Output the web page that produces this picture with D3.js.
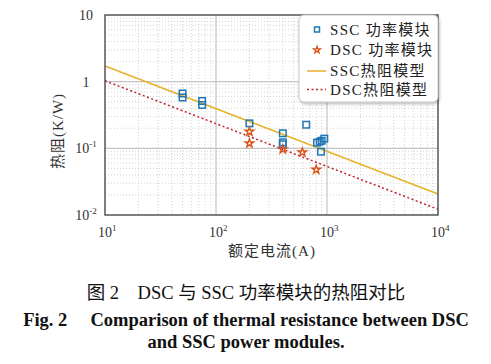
<!DOCTYPE html>
<html><head><meta charset="utf-8">
<script src="https://cdn.jsdelivr.net/npm/d3@7"></script>
<style>
body{margin:0;background:#fff;}
svg{display:block;}
</style></head>
<body>
<svg id="c" width="491" height="364"></svg>
<script>
// ---- data ----
const sscCurrent = [50, 50, 75, 75, 200, 400, 400, 400, 650, 813, 859, 895, 946, 883];
const sscRth     = [0.665, 0.579, 0.513, 0.447, 0.237, 0.168, 0.123, 0.115, 0.226, 0.1216, 0.126, 0.130, 0.140, 0.089];
const dscCurrent = [200, 200, 400, 600, 800];
const dscRth     = [0.178, 0.119, 0.097, 0.087, 0.048];
const modelCurrent = [10, 10000];
const sscModel   = [1.72, 0.0207];
const dscModel   = [1.03, 0.0122];
const xTickExp = [1, 2, 3, 4];
const yTicks = [{v:10, t:"10", e:""}, {v:1, t:"1", e:""}, {v:0.1, t:"10", e:"-1"}, {v:0.01, t:"10", e:"-2"}];
const legendLabels = ["SSC 功率模块", "DSC 功率模块", "SSC热阻模型", "DSC热阻模型"];
const xLabel = "额定电流(A)";
const yLabel = "热阻(K/W)";
const caption1 = "图 2\u3000DSC 与 SSC 功率模块的热阻对比";
const caption2 = "Fig. 2\u2003 Comparison of thermal resistance between DSC";
const caption3 = "and SSC power modules.";

const svg = d3.select("#c");
const L = 105, R = 438, T = 15, B = 215;
const x = d3.scaleLog().domain([10, 10000]).range([L, R]);
const y = d3.scaleLog().domain([0.01, 10]).range([B, T]);
const serif = "'Liberation Serif','DejaVu Serif',serif";
const cjk = "'Liberation Serif','Noto Sans CJK SC',serif";
const blue = "#1f77b4", orange = "#d95319", yellow = "#e6b22c", red = "#c0202a";

const g = svg.append("g");
// minor grid
const minorX = [], minorY = [];
for (let d = 1; d < 4; d++) for (let k = 2; k <= 9; k++) minorX.push(k * Math.pow(10, d));
for (let d = -2; d < 1; d++) for (let k = 2; k <= 9; k++) minorY.push(k * Math.pow(10, d));
g.selectAll(".mx").data(minorX).join("line")
  .attr("x1", d => x(d)).attr("x2", d => x(d)).attr("y1", T).attr("y2", B)
  .attr("stroke", "#c8c8c8").attr("stroke-width", 0.8).attr("stroke-dasharray", "1,2");
g.selectAll(".my").data(minorY).join("line")
  .attr("y1", d => y(d)).attr("y2", d => y(d)).attr("x1", L).attr("x2", R)
  .attr("stroke", "#c8c8c8").attr("stroke-width", 0.8).attr("stroke-dasharray", "1,2");
// major grid
g.selectAll(".MX").data([100, 1000]).join("line")
  .attr("x1", d => x(d)).attr("x2", d => x(d)).attr("y1", T).attr("y2", B)
  .attr("stroke", "#c4c4c4").attr("stroke-width", 1.2);
g.selectAll(".MY").data([1, 0.1]).join("line")
  .attr("y1", d => y(d)).attr("y2", d => y(d)).attr("x1", L).attr("x2", R)
  .attr("stroke", "#c4c4c4").attr("stroke-width", 1.2);

// model lines
const line = d3.line().x(d => x(d[0])).y(d => y(d[1]));
svg.append("path").datum(modelCurrent.map((c, i) => [c, sscModel[i]]))
  .attr("d", line).attr("fill", "none").attr("stroke", yellow).attr("stroke-width", 1.5);
svg.append("path").datum(modelCurrent.map((c, i) => [c, dscModel[i]]))
  .attr("d", line).attr("fill", "none").attr("stroke", red).attr("stroke-width", 1.5)
  .attr("stroke-dasharray", "2,2.5");

// markers
const sq = 6.5;
svg.selectAll(".ssc").data(sscCurrent.map((c, i) => [c, sscRth[i]])).join("rect")
  .attr("x", d => x(d[0]) - sq / 2).attr("y", d => y(d[1]) - sq / 2)
  .attr("width", sq).attr("height", sq)
  .attr("fill", "none").attr("stroke", blue).attr("stroke-width", 1.5);
const star = d3.symbol().type(d3.symbolStar).size(22)();
svg.selectAll(".dsc").data(dscCurrent.map((c, i) => [c, dscRth[i]])).join("path")
  .attr("d", star).attr("transform", d => `translate(${x(d[0])},${y(d[1])})`)
  .attr("fill", "none").attr("stroke", orange).attr("stroke-width", 1.4);

// frame
svg.append("rect").attr("x", L).attr("y", T).attr("width", R - L).attr("height", B - T)
  .attr("fill", "none").attr("stroke", "#555").attr("stroke-width", 1.5);

// x tick labels
const xl = svg.selectAll(".xt").data(xTickExp).join("text")
  .attr("x", d => x(Math.pow(10, d)) - 7).attr("y", 237)
  .attr("font-family", serif).attr("font-size", 14).attr("fill", "#333");
xl.append("tspan").text("10");
xl.append("tspan").attr("font-size", 9).attr("dy", -6).text(d => d);

// y tick labels
const yl = svg.selectAll(".yt").data(yTicks).join("text")
  .attr("x", 86).attr("y", d => y(d.v) + 5).attr("text-anchor", "middle")
  .attr("font-family", serif).attr("font-size", 14).attr("fill", "#333");
yl.append("tspan").text(d => d.t);
yl.append("tspan").attr("font-size", 9).attr("dy", -6).text(d => d.e);

// axis labels
svg.append("text").attr("x", 272).attr("y", 256).attr("text-anchor", "middle")
  .attr("font-family", cjk).attr("font-size", 15).attr("letter-spacing", 1).attr("fill", "#333").text(xLabel);
svg.append("text").attr("transform", "translate(63,131) rotate(-90)").attr("text-anchor", "middle")
  .attr("font-family", cjk).attr("font-size", 15).attr("letter-spacing", 1).attr("fill", "#333").text(yLabel);

// legend
const defs = svg.append("defs");
const f = defs.append("filter").attr("id", "sh").attr("x", "-10%").attr("y", "-10%").attr("width", "130%").attr("height", "130%");
f.append("feDropShadow").attr("dx", 1).attr("dy", 1.5).attr("stdDeviation", 1.5).attr("flood-color", "#000").attr("flood-opacity", 0.3);
svg.append("rect").attr("x", 299).attr("y", 15).attr("width", 139).attr("height", 87).attr("rx", 5)
  .attr("fill", "#fff").attr("stroke", "#c8c8c8").attr("stroke-width", 1).attr("filter", "url(#sh)");
const ly = [29.5, 50, 71, 89.5];
const leg = svg.selectAll(".lg").data(legendLabels).join("g")
  .attr("transform", (d, i) => `translate(0,${ly[i]})`);
leg.append("text").attr("x", 330).attr("y", 5).attr("font-family", cjk).attr("font-size", 15)
  .attr("letter-spacing", 1.3).attr("fill", "#222").text(d => d);
svg.append("rect").attr("x", 317 - 2.5).attr("y", ly[0] - 2.5).attr("width", 5).attr("height", 5)
  .attr("fill", "none").attr("stroke", blue).attr("stroke-width", 1.5);
svg.append("path").attr("d", d3.symbol().type(d3.symbolStar).size(14)())
  .attr("transform", `translate(317,${ly[1]})`).attr("fill", "none").attr("stroke", orange).attr("stroke-width", 1.3);
svg.append("line").attr("x1", 307).attr("x2", 326).attr("y1", ly[2]).attr("y2", ly[2])
  .attr("stroke", yellow).attr("stroke-width", 1.5);
svg.append("line").attr("x1", 307).attr("x2", 326).attr("y1", ly[3]).attr("y2", ly[3])
  .attr("stroke", red).attr("stroke-width", 1.5).attr("stroke-dasharray", "2,2.5");

// captions
svg.append("text").attr("x", 246).attr("y", 299).attr("text-anchor", "middle")
  .attr("font-family", "'Liberation Serif','Noto Sans CJK SC',serif").attr("font-size", 18.5).attr("fill", "#111").text(caption1);
svg.append("text").attr("x", 246).attr("y", 326).attr("text-anchor", "middle")
  .attr("font-family", "'Liberation Serif',serif").attr("font-weight", "bold").attr("font-size", 18.5).attr("fill", "#111").text(caption2);
svg.append("text").attr("x", 246).attr("y", 348).attr("text-anchor", "middle")
  .attr("font-family", "'Liberation Serif',serif").attr("font-weight", "bold").attr("font-size", 18.5).attr("fill", "#111").text(caption3);
</script>
</body></html>
